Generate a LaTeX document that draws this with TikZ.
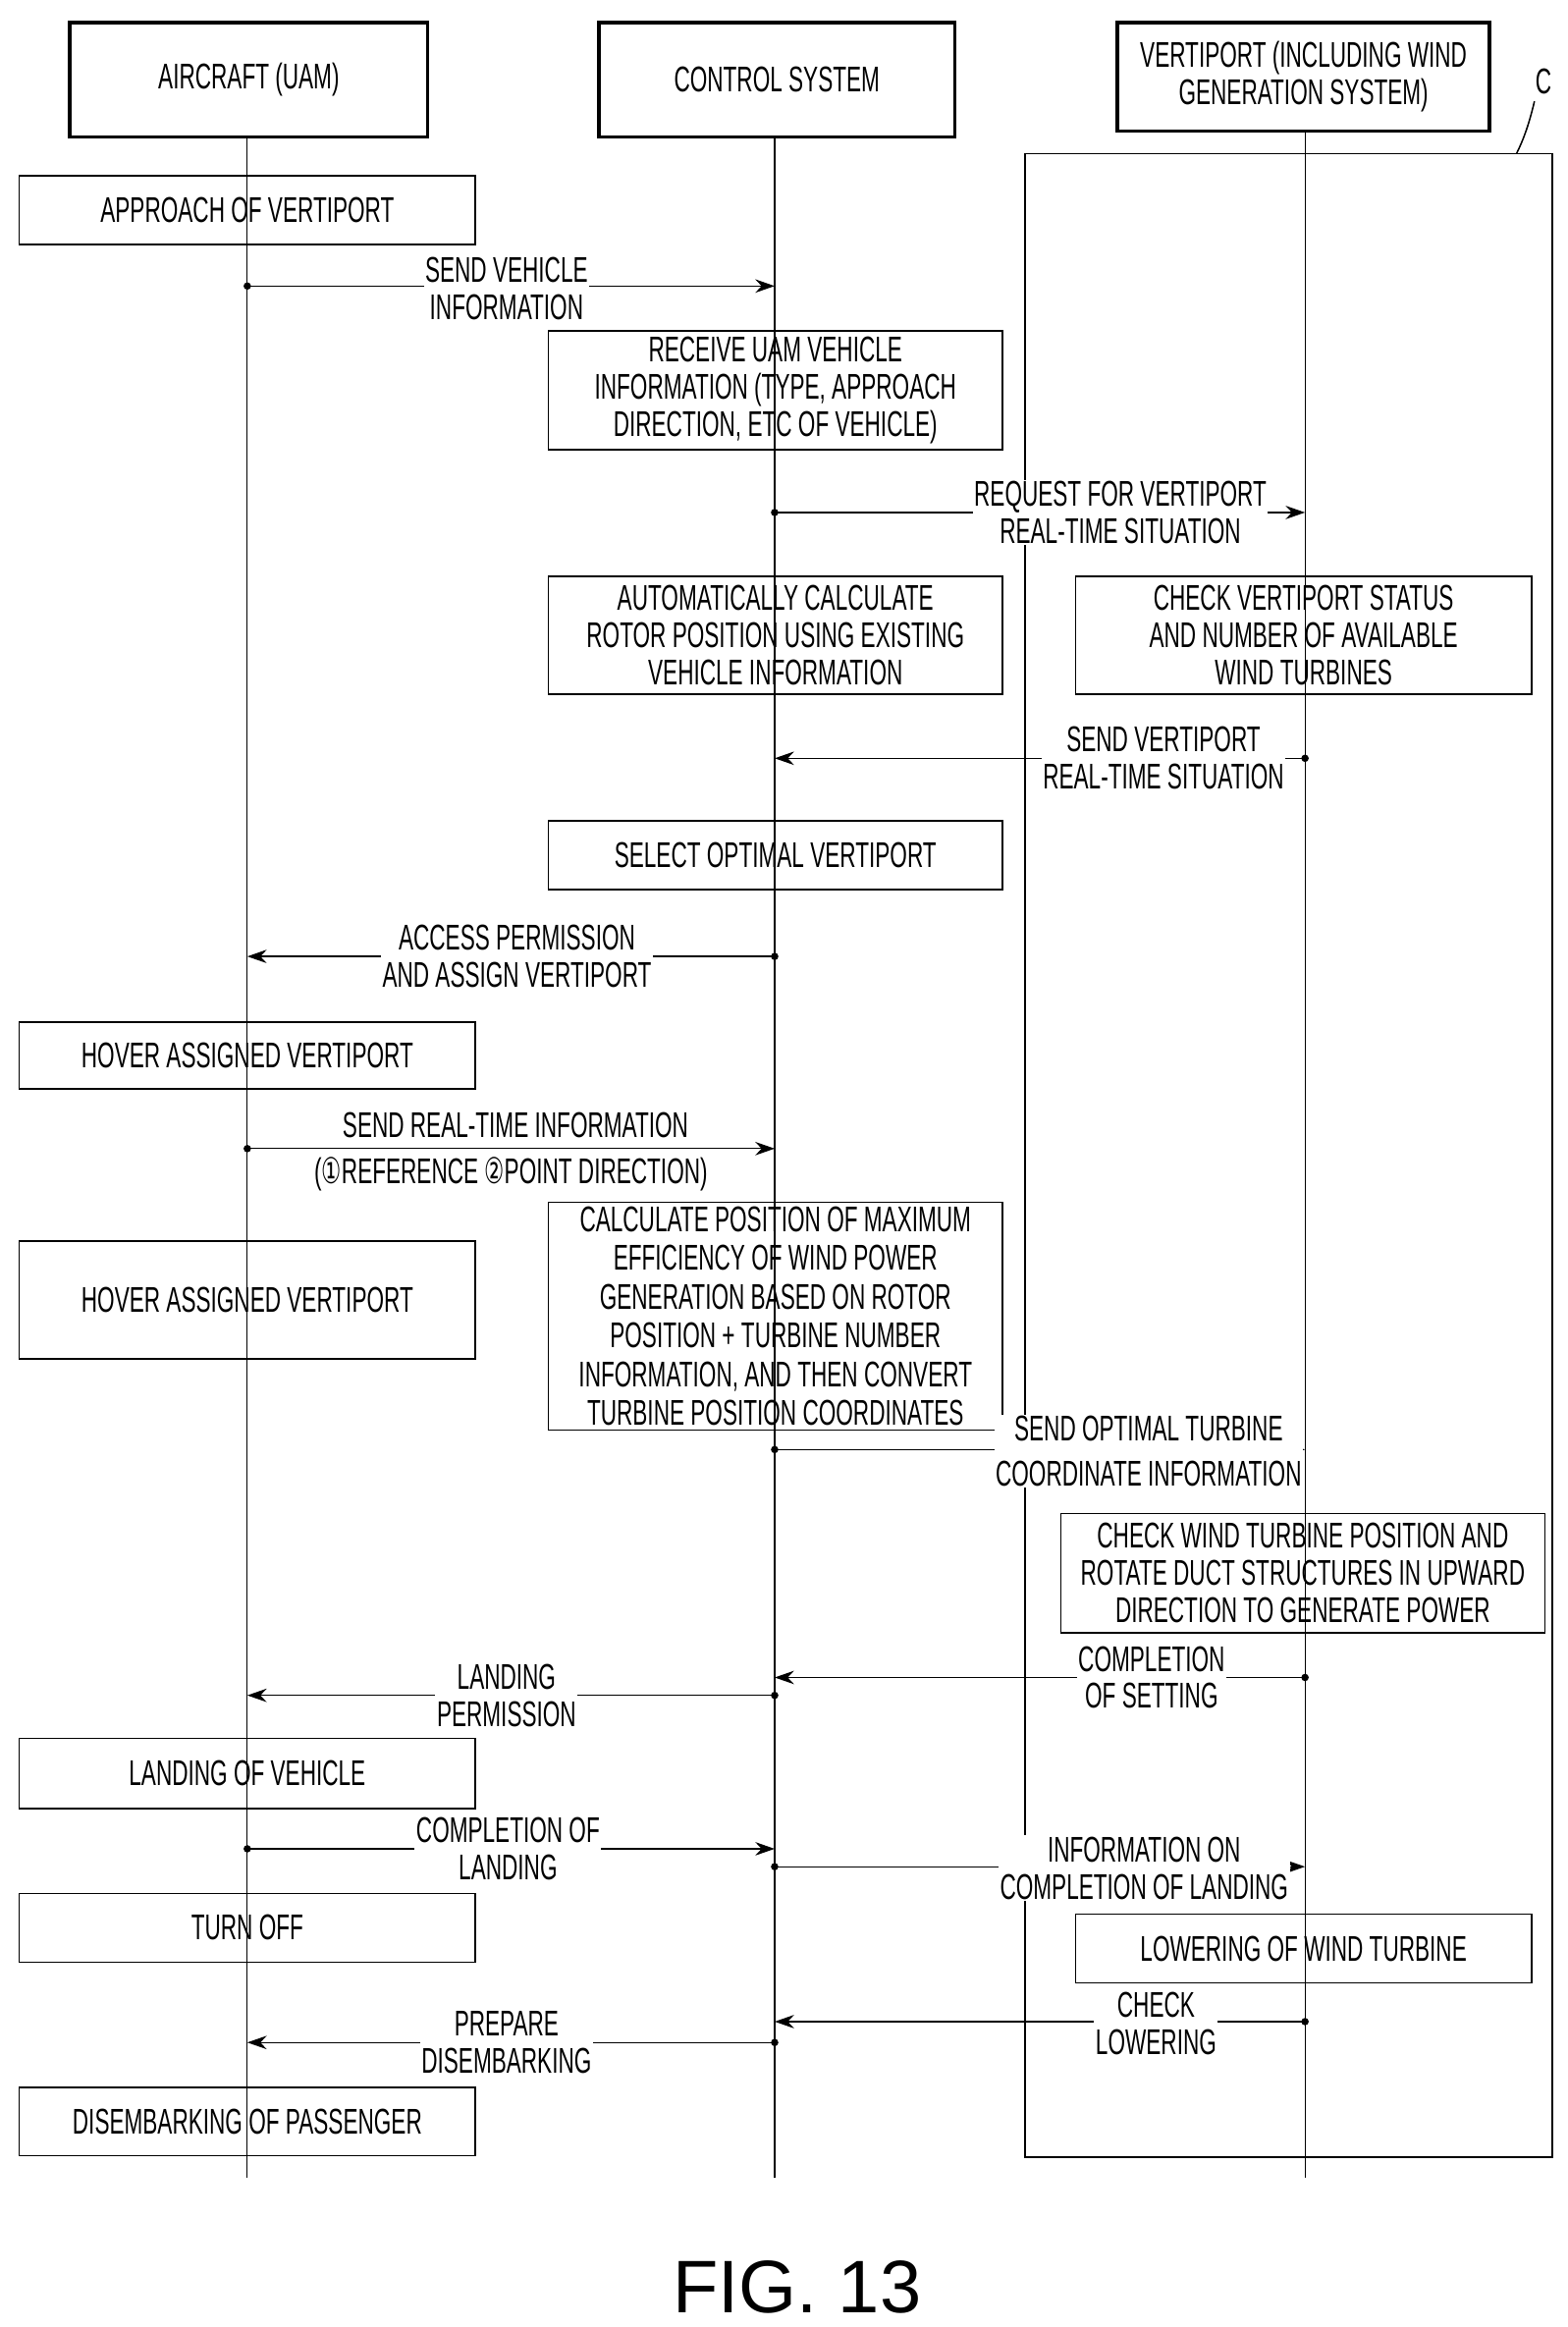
\documentclass[tikz,border=0pt]{standalone}
\usepackage{fontspec}
\setmainfont[FakeStretch=0.62]{Liberation Sans}
\newfontfamily\plainsf{Liberation Sans}
\newfontfamily\djv[FakeStretch=0.62]{DejaVu Sans}
\usetikzlibrary{arrows.meta}
\begin{document}
\begin{tikzpicture}[x=1pt,y=-1pt,
  every node/.style={font=\fontsize{24}{25}\selectfont, align=center},
  head/.style={draw, line width=2.5pt, inner sep=0pt},
  box/.style={draw, line width=1pt, inner sep=0pt},
  lbl/.style={fill=white, inner sep=1pt},
  msg/.style={line width=0.8pt, -{Stealth[length=13pt,width=9pt]}},
  dot/.style={circle, fill, inner sep=0pt, minimum size=5pt}]
\useasboundingbox (0,0) rectangle (1052,1562);
% headers
\node[head, minimum width=240pt, minimum height=77pt] (hA) at (167,53.5) {AIRCRAFT (UAM)};
\node[head, minimum width=239pt, minimum height=77pt] (hC) at (521.5,53.5) {CONTROL SYSTEM};
\node[head, minimum width=250pt, minimum height=73pt] (hV) at (875,51.5) {VERTIPORT (INCLUDING WIND\\GENERATION SYSTEM)};
% lifelines
\coordinate (eA) at (166,1462); \coordinate (eC) at (520,1462); \coordinate (eV) at (876,1462);
\draw[line width=0.8pt] (166,92) -- (eA);
\draw[line width=0.8pt] (520,92) -- (eC);
\draw[line width=0.8pt] (876,88) -- (eV);
% region C
\draw[line width=1pt] (688,103) rectangle (1042,1448);
\node (cl) at (1036,55) {C};
\draw[line width=1pt] (1030,68) .. controls (1026,85) and (1022,95) .. (1018,103);
% left boxes
\node[box, minimum width=306pt, minimum height=46pt] (b1) at (166,141) {APPROACH OF VERTIPORT};
\node[box, minimum width=306pt, minimum height=45pt] (b2) at (166,708.5) {HOVER ASSIGNED VERTIPORT};
\node[box, minimum width=306pt, minimum height=79pt] (b3) at (166,872.5) {HOVER ASSIGNED VERTIPORT};
\node[box, minimum width=306pt, minimum height=47pt] (b4) at (166,1190.5) {LANDING OF VEHICLE};
\node[box, minimum width=306pt, minimum height=46pt] (b5) at (166,1294) {TURN OFF};
\node[box, minimum width=306pt, minimum height=46pt] (b6) at (166,1424) {DISEMBARKING OF PASSENGER};
% control boxes
\node[box, minimum width=305pt, minimum height=80pt] (c1) at (520.5,262) {RECEIVE UAM VEHICLE\\INFORMATION (TYPE, APPROACH\\DIRECTION, ETC OF VEHICLE)};
\node[box, minimum width=305pt, minimum height=79pt] (c2) at (520.5,426.5) {AUTOMATICALLY CALCULATE\\ROTOR POSITION USING EXISTING\\VEHICLE INFORMATION};
\node[box, minimum width=305pt, minimum height=46pt] (c3) at (520.5,574) {SELECT OPTIMAL VERTIPORT};
\node[box, minimum width=305pt, minimum height=153pt, font=\fontsize{24}{26}\selectfont] (c4) at (520.5,883.5) {CALCULATE POSITION OF MAXIMUM\\EFFICIENCY OF WIND POWER\\GENERATION BASED ON ROTOR\\POSITION + TURBINE NUMBER\\INFORMATION, AND THEN CONVERT\\TURBINE POSITION COORDINATES};
% vertiport boxes
\node[box, minimum width=306pt, minimum height=79pt] (v1) at (875,426.5) {CHECK VERTIPORT STATUS\\AND NUMBER OF AVAILABLE\\WIND TURBINES};
\node[box, minimum width=325pt, minimum height=80pt] (v2) at (874.5,1056) {CHECK WIND TURBINE POSITION AND\\ROTATE DUCT STRUCTURES IN UPWARD\\DIRECTION TO GENERATE POWER};
\node[box, minimum width=306pt, minimum height=46pt] (v3) at (875,1308) {LOWERING OF WIND TURBINE};
% message anchors
\foreach \n/\x/\y in {a1/166/192,c1e/520/192, c2s/520/344,v2e/876/344, v3s/876/509,c3e/520/509,
  c4s/520/642,a4e/166/642, a5s/166/771,c5e/520/771, c6s/520/973,v6e/876/973,
  v7s/876/1126,c7e/520/1126, c8s/520/1138,a8e/166/1138, a9s/166/1241,c9e/520/1241,
  c10s/520/1253,v10e/876/1253, v11s/876/1357,c11e/520/1357, c12s/520/1371,a12e/166/1371}
  {\coordinate (\n) at (\x,\y);}
\foreach \s/\e in {a1/c1e,c2s/v2e,v3s/c3e,c4s/a4e,a5s/c5e,c6s/v6e,v7s/c7e,c8s/a8e,a9s/c9e,c10s/v10e,v11s/c11e,c12s/a12e}
  {\draw[msg] (\s) -- (\e); \node[dot] at (\s) {};}
% labels
\node[lbl] (m1) at (340,194) {SEND VEHICLE\\INFORMATION};
\node[lbl] (m2) at (752,344) {REQUEST FOR VERTIPORT\\REAL-TIME SITUATION};
\node[lbl] (m3) at (781,509) {SEND VERTIPORT\\REAL-TIME SITUATION};
\node[lbl] (m4) at (347,642) {ACCESS PERMISSION\\AND ASSIGN VERTIPORT};
\node (m5a) at (346,755) {SEND REAL-TIME INFORMATION};
\node (m5b) at (343,788) {({\djv①}REFERENCE {\djv②}POINT DIRECTION)};
\node[lbl] (m6) at (771,974) {SEND OPTIMAL TURBINE\\[5pt]COORDINATE INFORMATION};
\node[lbl] (m7) at (773,1126) {COMPLETION\\OF SETTING};
\node[lbl] (m8) at (340,1138) {LANDING\\PERMISSION};
\node[lbl] (m9) at (341,1241) {COMPLETION OF\\LANDING};
\node[lbl] (m10) at (768,1254) {INFORMATION ON\\COMPLETION OF LANDING};
\node[lbl] (m11) at (776,1358) {CHECK\\LOWERING};
\node[lbl] (m12) at (340,1371) {PREPARE\\DISEMBARKING};
\node[font=\plainsf\fontsize{50}{50}\selectfont] (fig) at (535,1535) {FIG. 13};
\end{tikzpicture}
\end{document}
